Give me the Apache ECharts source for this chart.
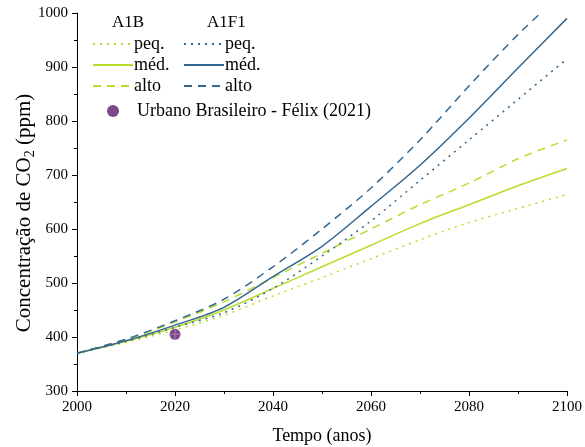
<!DOCTYPE html>
<html><head><meta charset="utf-8">
<script src="https://cdn.jsdelivr.net/npm/echarts@6/dist/echarts.min.js"></script>
<style>html,body{margin:0;padding:0;background:#fff}#c{width:585px;height:447px}</style>
</head><body><div id="c"></div>
<script>
var years = [2000, 2010, 2020, 2030, 2040, 2050, 2060, 2070, 2080, 2090, 2100];
var a1bPeq  = [370, 390, 413, 440, 476, 510, 545, 580, 612, 638, 664];
var a1bMed  = [370, 392, 418, 450, 490, 530, 570, 610, 645, 680, 712];
var a1bAlto = [370, 395, 428, 465, 510, 555, 600, 645, 685, 730, 765];
var a1f1Peq  = [370, 392, 418, 445, 490, 550, 615, 690, 765, 840, 915];
var a1f1Med  = [370, 393, 422, 455, 512, 568, 642, 718, 805, 898, 990];
var a1f1Alto = [370, 396, 430, 470, 530, 600, 676, 765, 865, 960, 1045];
var obsYear = [2020];
var obsValue = [405];

var green = '#b8dd2c', blue = '#34678f', purple = '#5b1a6e';
var font = 'Liberation Serif';
function pairs(v){ return years.map(function(y,i){ return [y, v[i]]; }); }
function line(name, data, color, type){
  return { name: name, type: 'line', data: pairs(data), symbol: 'none', smooth: 0.3,
    lineStyle: { color: color, width: 1.5, type: type }, itemStyle: { color: color }, z: 3 };
}
var dot = [2, 5], dash = [8, 6];
var obs = obsYear.map(function(y,i){ return [y, obsValue[i]]; });
var lineLegend = { orient: 'vertical', top: 35, padding: 0,
  itemWidth: 40, itemHeight: 14, itemGap: 3,
  itemStyle: { opacity: 0 },
  formatter: function(n){ return n.split(' ')[1]; },
  textStyle: { fontFamily: font, fontSize: 18, color: '#000', padding: [0,0,0,-4] } };
var chart = echarts.init(document.getElementById('c'));
chart.setOption({
  animation: false,
  grid: { left: 77, right: 18, top: 13, bottom: 56, outerBoundsMode: 'none', containLabel: false },
  xAxis: { type: 'value', min: 2000, max: 2100, interval: 20,
    name: 'Tempo (anos)', nameLocation: 'middle', nameGap: 36,
    nameTextStyle: { fontFamily: font, fontSize: 18, color: '#000' },
    axisLine: { lineStyle: { color: '#000', width: 1 } },
    axisTick: { length: 5, lineStyle: { color: '#000' } },
    minorTick: { show: true, splitNumber: 2, length: 3, lineStyle: { color: '#000' } },
    axisLabel: { fontFamily: font, fontSize: 15, color: '#000', margin: 9,
      formatter: function(v){ return String(v); } },
    splitLine: { show: false } },
  yAxis: { type: 'value', min: 300, max: 1000, interval: 100,
    axisLine: { show: true, lineStyle: { color: '#000', width: 1 } },
    axisTick: { length: 5, lineStyle: { color: '#000' } },
    minorTick: { show: true, splitNumber: 2, length: 3, lineStyle: { color: '#000' } },
    axisLabel: { fontFamily: font, fontSize: 15, color: '#000', margin: 9,
      formatter: function(v){ return String(v); } },
    splitLine: { show: false } },
  legend: [
    Object.assign({}, lineLegend, { data: ['A1B peq.', 'A1B méd.', 'A1B alto'], left: 92 }),
    Object.assign({}, lineLegend, { data: ['A1F1 peq.', 'A1F1 méd.', 'A1F1 alto'], left: 183 }),
    { data: ['Urbano Brasileiro - Félix (2021)'], left: 107, top: 102, padding: 0,
      itemWidth: 12, itemHeight: 12,
      textStyle: { fontFamily: font, fontSize: 18, color: '#000', padding: [0,0,0,13] } }
  ],
  graphic: [
    { type: 'text', x: 112, y: 23, style: { text: 'A1B', fontFamily: font, fontSize: 17, fill: '#000', verticalAlign: 'middle' } },
    { type: 'text', x: 207, y: 23, style: { text: 'A1F1', fontFamily: font, fontSize: 17, fill: '#000', verticalAlign: 'middle' } },
    { type: 'text', x: 24, y: 213, rotation: Math.PI / 2,
      style: { text: '{a|Concentração de CO}{s|2}{a| (ppm)}', align: 'center', verticalAlign: 'middle',
        rich: { a: { fontFamily: font, fontSize: 21, fill: '#000' },
                s: { fontFamily: font, fontSize: 14, fill: '#000', padding: [12, 0, 0, 0] } } } }
  ],
  series: [
    line('A1B peq.', a1bPeq, green, dot),
    line('A1B méd.', a1bMed, green, 'solid'),
    line('A1B alto', a1bAlto, green, dash),
    line('A1F1 peq.', a1f1Peq, blue, dot),
    line('A1F1 méd.', a1f1Med, blue, 'solid'),
    line('A1F1 alto', a1f1Alto, blue, dash),
    { name: 'Urbano Brasileiro - Félix (2021)', type: 'scatter', data: obs,
      symbol: 'circle', symbolSize: 11, itemStyle: { color: purple }, z: 5 },
    { name: 'obs-cross', type: 'scatter', data: obs, silent: true,
      symbol: 'path://M0,4.5H10V5.5H0Z M4.5,0H5.5V10H4.5Z', symbolSize: 11,
      itemStyle: { color: '#a98bb8' }, z: 6 }
  ]
});
</script></body></html>
